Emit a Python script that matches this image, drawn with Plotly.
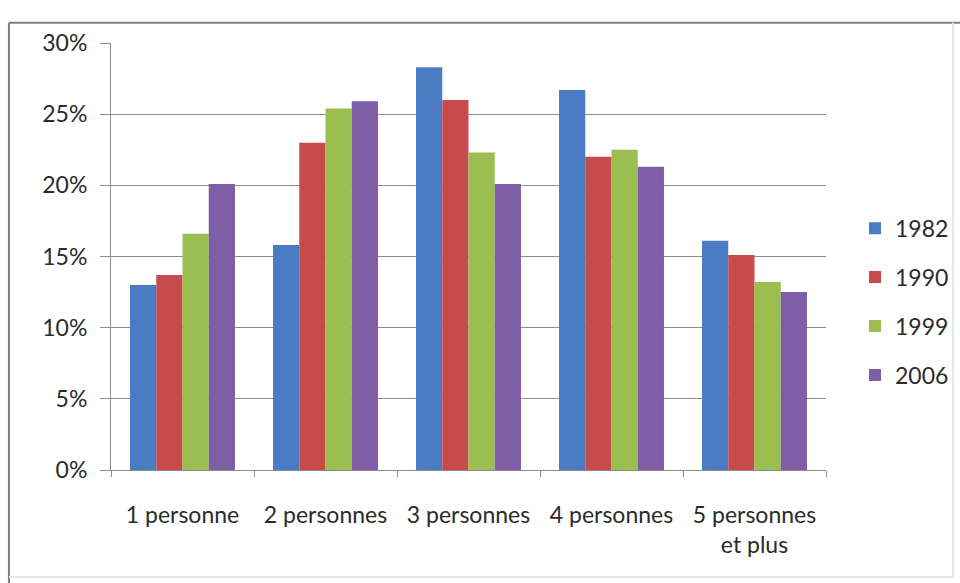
import plotly.graph_objects as go

# Household size distribution by census year
categories = ["1 personne", "2 personnes", "3 personnes", "4 personnes", "5 personnes<br>et plus"]
years = ["1982", "1990", "1999", "2006"]
share_1982 = [0.130, 0.158, 0.283, 0.267, 0.161]
share_1990 = [0.137, 0.230, 0.260, 0.220, 0.151]
share_1999 = [0.166, 0.254, 0.223, 0.225, 0.132]
share_2006 = [0.201, 0.259, 0.201, 0.213, 0.125]
y_ticks = [0, 0.05, 0.10, 0.15, 0.20, 0.25, 0.30]

series = [share_1982, share_1990, share_1999, share_2006]
colors = ["#4A7CC3", "#C64C4B", "#9BBE50", "#7E5EA6"]

FONT = "Lato"
TEXT = "#2B2B2B"
GRID = "#8C8C8C"

fig = go.Figure()
for i, (year, vals) in enumerate(zip(years, series)):
    fig.add_trace(go.Bar(
        x=categories, y=vals, name=year,
        marker=dict(color=colors[i], line=dict(width=0)),
        legendgroup=year,
    ))

fig.update_layout(
    width=960, height=583,
    margin=dict(l=111, r=134, t=43, b=113, autoexpand=False),
    paper_bgcolor="white", plot_bgcolor="white",
    barmode="group", bargap=0.266, bargroupgap=0,
    font=dict(family=FONT, size=23, color=TEXT),
    showlegend=True,
    legend=dict(
        x=1.0406, xanchor="left", y=0.394, yanchor="middle",
        font=dict(family=FONT, size=23, color=TEXT),
        tracegroupgap=16, traceorder="grouped",
        bgcolor="rgba(0,0,0,0)",
    ),
    xaxis=dict(
        type="category",
        showline=True, linecolor=GRID, linewidth=1,
        ticks="outside", tickson="boundaries", ticklen=6, tickcolor=GRID,
        showgrid=False, ticklabelstandoff=24,
        tickfont=dict(family=FONT, size=23, color=TEXT),
    ),
    yaxis=dict(
        range=[0, 0.30], tickvals=y_ticks, tickformat=".0%",
        showline=True, linecolor=GRID, linewidth=1,
        ticks="outside", ticklen=10, tickcolor=GRID,
        showgrid=True, gridcolor=GRID, gridwidth=1,
        zeroline=False, ticklabelstandoff=8,
        tickfont=dict(family=FONT, size=23, color=TEXT),
    ),
    shapes=[
        # outer chart frame
        dict(type="line", xref="paper", yref="paper", x0=-0.1427, x1=1.19, y0=1.0476, y1=1.0476,
             line=dict(color="#7F7F7F", width=2)),
        dict(type="line", xref="paper", yref="paper", x0=-0.1427, x1=-0.1427, y0=1.0476, y1=-0.27,
             line=dict(color="#7F7F7F", width=2)),
        dict(type="line", xref="paper", yref="paper", x0=1.1776, x1=1.1776, y0=1.0476, y1=-0.2508,
             line=dict(color="#E6E6E6", width=2)),
        dict(type="line", xref="paper", yref="paper", x0=-0.1427, x1=1.1776, y0=-0.2508, y1=-0.2508,
             line=dict(color="#E6E6E6", width=2)),
    ],
)

fig.write_html("out.html")
